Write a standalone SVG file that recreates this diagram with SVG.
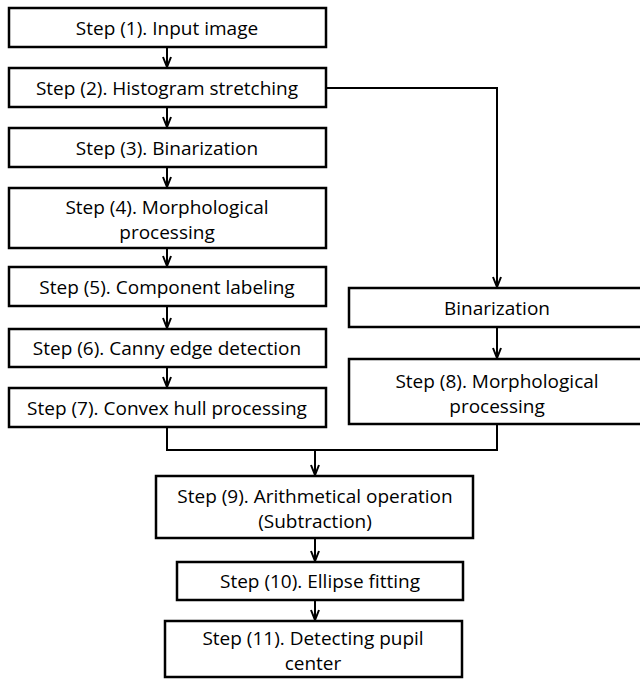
<svg xmlns="http://www.w3.org/2000/svg" width="640" height="679" viewBox="0 0 640 679">
<defs>
<style>
.box{fill:#fff;stroke:#000;stroke-width:2.5}
.t{font-family:"Open Sans","Noto Sans","DejaVu Sans",sans-serif;font-size:19px;fill:#000;text-anchor:middle}
.c{fill:none;stroke:#000;stroke-width:2}
</style>
<marker id="ah" viewBox="0 0 12 10" refX="11" refY="5" markerWidth="12" markerHeight="10" markerUnits="userSpaceOnUse" orient="auto">
<path d="M1,1 L11,5 L1,9" fill="none" stroke="#000" stroke-width="2"/>
</marker>
</defs>
<rect width="640" height="679" fill="#fff"/>
<g id="connectors">
<line class="c" x1="167" y1="47" x2="167" y2="67" marker-end="url(#ah)"/>
<line class="c" x1="167" y1="107" x2="167" y2="127" marker-end="url(#ah)"/>
<line class="c" x1="167" y1="167" x2="167" y2="187" marker-end="url(#ah)"/>
<line class="c" x1="167" y1="248" x2="167" y2="266" marker-end="url(#ah)"/>
<line class="c" x1="167" y1="306" x2="167" y2="328" marker-end="url(#ah)"/>
<line class="c" x1="167" y1="367" x2="167" y2="387" marker-end="url(#ah)"/>
<polyline class="c" points="326,88 497,88 497,287" marker-end="url(#ah)"/>
<line class="c" x1="497" y1="327" x2="497" y2="358" marker-end="url(#ah)"/>
<polyline class="c" points="167,427 167,450 497,450 497,424"/>
<line class="c" x1="315" y1="450" x2="315" y2="475" marker-end="url(#ah)"/>
<line class="c" x1="315" y1="538" x2="315" y2="561" marker-end="url(#ah)"/>
<line class="c" x1="315" y1="600" x2="315" y2="620" marker-end="url(#ah)"/>
</g>
<g id="step1"><rect class="box" x="9" y="8" width="317" height="39"/><text class="t" x="167" y="35">Step (1). Input image</text></g>
<g id="step2"><rect class="box" x="9" y="68" width="317" height="39"/><text class="t" x="167" y="95">Step (2). Histogram stretching</text></g>
<g id="step3"><rect class="box" x="9" y="128" width="317" height="39"/><text class="t" x="167" y="155">Step (3). Binarization</text></g>
<g id="step4"><rect class="box" x="9" y="188" width="317" height="60"/><text class="t" x="167" y="214">Step (4). Morphological</text><text class="t" x="167" y="239">processing</text></g>
<g id="step5"><rect class="box" x="9" y="267" width="317" height="39"/><text class="t" x="167" y="294">Step (5). Component labeling</text></g>
<g id="step6"><rect class="box" x="9" y="329" width="317" height="38"/><text class="t" x="167" y="355">Step (6). Canny edge detection</text></g>
<g id="step7"><rect class="box" x="9" y="388" width="317" height="39"/><text class="t" x="167" y="415">Step (7). Convex hull processing</text></g>
<g id="binarization"><rect class="box" x="349" y="288" width="300" height="39"/><text class="t" x="497" y="315">Binarization</text></g>
<g id="step8"><rect class="box" x="349" y="359" width="300" height="65"/><text class="t" x="497" y="388">Step (8). Morphological</text><text class="t" x="497" y="413">processing</text></g>
<g id="step9"><rect class="box" x="156" y="476" width="317" height="62"/><text class="t" x="315" y="503">Step (9). Arithmetical operation</text><text class="t" x="315" y="528">(Subtraction)</text></g>
<g id="step10"><rect class="box" x="177" y="562" width="286" height="38"/><text class="t" x="320" y="588">Step (10). Ellipse fitting</text></g>
<g id="step11"><rect class="box" x="165" y="621" width="297" height="56"/><text class="t" x="313" y="645">Step (11). Detecting pupil</text><text class="t" x="313" y="670">center</text></g>
</svg>
